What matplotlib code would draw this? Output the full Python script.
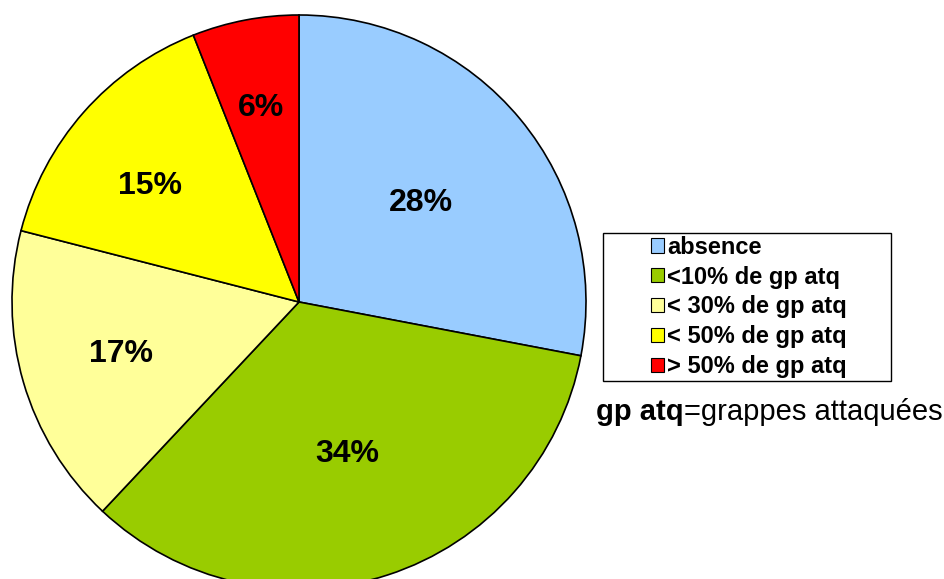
import matplotlib
matplotlib.use("Agg")
import matplotlib.pyplot as plt
from matplotlib.patches import Rectangle, Patch
import numpy as np

categories = ["absence", "<10% de gp atq", "< 30% de gp atq", "< 50% de gp atq", "> 50% de gp atq"]
values = [28, 34, 17, 15, 6]
colors = ["#99CCFF", "#99CC00", "#FFFF99", "#FFFF00", "#FF0000"]
label_radius = [0.553, 0.543, 0.644, 0.665, 0.70]
label_angle_shift = [0.4, 0.0, -1.1, 2.8, 0.0]

plt.rcParams['font.family'] = ['Liberation Sans', 'DejaVu Sans']

W, H = 945, 579
fig = plt.figure(figsize=(W / 100, H / 100), dpi=100)
ax = fig.add_axes([0, 0, 1, 1])
ax.set_xlim(0, W)
ax.set_ylim(0, H)
ax.set_aspect('equal')
ax.axis('off')

cx, cy, R = 299, H - 302, 287
wedges, texts = ax.pie(values, colors=colors, startangle=90, counterclock=False,
                       center=(cx, cy), radius=R,
                       wedgeprops=dict(edgecolor='black', linewidth=1.2))
ax.set_xlim(0, W)
ax.set_ylim(0, H)

for w, v, f, da in zip(wedges, values, label_radius, label_angle_shift):
    ang = np.deg2rad((w.theta1 + w.theta2) / 2 + da)
    ax.text(cx + f * R * np.cos(ang), cy + f * R * np.sin(ang), f"{v}%",
            ha='center', va='center_baseline', fontsize=23, fontweight='bold')

handles = [Patch(facecolor=c, edgecolor='black', linewidth=0.8) for c in colors]
leg = ax.legend(handles, categories, loc='center',
                bbox_to_anchor=(749 / W, 1 - 307 / H), bbox_transform=fig.transFigure,
                frameon=False, prop=dict(size=17, weight='bold'),
                handlelength=0.55, handleheight=0.55, handletextpad=0.15,
                labelspacing=0.29, borderpad=0.2)

ax.add_patch(Rectangle((603, H - 381), 288, 148, fill=False, edgecolor='black', linewidth=1.0))

t1 = ax.text(596, H - 420, "gp atq", fontsize=21, fontweight='bold', va='baseline', ha='left')
ax.annotate("=grappes attaquées", xy=(1, 0), xycoords=t1, xytext=(0, 0),
            textcoords='offset points', fontsize=21, va='bottom', ha='left')

fig.savefig("out.png", dpi=100)
